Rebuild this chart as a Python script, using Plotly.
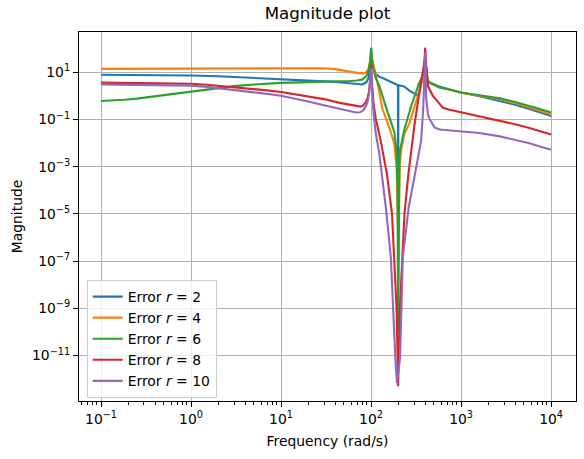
import plotly.graph_objects as go

# ---------------- data ----------------
labels = ["Error <i>r</i> = 2", "Error <i>r</i> = 4", "Error <i>r</i> = 6",
          "Error <i>r</i> = 8", "Error <i>r</i> = 10"]
colors = ["#1f77b4", "#ff7f0e", "#2ca02c", "#d62728", "#9467bd"]

# frequency (rad/s) and log10(magnitude) for each series
f_r2 = [0.1, 0.3, 1, 2, 3, 5, 7, 10, 15, 20, 30, 40, 50, 58, 65, 72, 80, 86, 90, 94, 97, 99, 100,
        104, 112, 123, 140, 165, 195, 199, 200, 201, 235, 267, 320, 340, 360,
        380, 400, 412, 424, 450, 575, 745, 1000, 1600, 2700, 4000, 5750, 7500, 10000]
m_r2 = [0.90, 0.89, 0.87, 0.84, 0.81, 0.77, 0.74, 0.71, 0.68, 0.66, 0.63, 0.60, 0.56, 0.54, 0.51, 0.49, 0.49,
        0.55, 0.62, 0.80, 1.15, 1.50, 2.05,
        1.30, 0.94, 0.82, 0.73, 0.59, 0.47, 0.46, -8.0, 0.46, 0.40, 0.23, 0.05, 0.10, 0.55,
        0.95, 1.60, 0.95, 0.66, 0.57, 0.40, 0.28, 0.15, -0.01, -0.20, -0.37, -0.55, -0.69, -0.85]

f_r4 = [0.1, 0.3, 1, 2, 5, 10, 20, 30, 40, 50, 58, 65, 75, 83, 88, 93, 97, 99, 100,
        104, 109, 120, 134, 158, 166, 181, 192, 200, 208, 216, 235, 267, 302, 330,
        360, 380, 400, 412, 424, 450, 575, 745, 1000, 1600, 2700, 4000, 5750, 7500, 10000]
m_r4 = [1.15, 1.16, 1.17, 1.18, 1.19, 1.20, 1.20, 1.18, 1.14, 1.08, 1.03, 0.99, 0.96, 0.96, 1.00, 1.12, 1.35,
        1.55, 1.75,
        1.40, 1.15, 0.40, -0.55, -1.30, -1.54, -2.00, -3.00, -6.00, -3.00, -2.30, -1.60, -1.16, -0.48, 0.00,
        0.45, 0.90, 1.60, 0.95, 0.66, 0.56, 0.36, 0.27, 0.14, 0.01, -0.14, -0.30, -0.47, -0.62, -0.78]

f_r6 = [0.1, 0.13, 0.18, 0.25, 0.316, 0.5, 0.7, 1, 1.5, 2, 3, 5, 7, 10, 20, 40, 58, 70, 80, 86, 90, 94, 97, 100,
        104, 112, 123, 153, 182, 192, 197, 200, 203, 207, 235, 281, 345, 376,
        400, 412, 424, 450, 575, 745, 1000, 1600, 2700, 4000, 5750, 7500, 10000]
m_r6 = [-0.21, -0.195, -0.16, -0.11, -0.06, 0.05, 0.13, 0.21, 0.29, 0.35, 0.42, 0.49, 0.53, 0.56, 0.59, 0.61,
        0.64, 0.66, 0.70, 0.80, 0.90, 1.10, 1.40, 2.00,
        1.30, 0.80, 0.45, -0.69, -1.54, -2.40, -4.00, -10.0, -4.00, -2.40, -1.40, -0.39, 0.59, 0.87,
        1.60, 0.95, 0.66, 0.57, 0.36, 0.28, 0.15, 0.03, -0.10, -0.25, -0.41, -0.55, -0.70]

f_r8 = [0.1, 0.3, 0.5, 1, 1.5, 2, 3, 5, 7, 10, 15, 20, 30, 45, 58, 68, 76, 82, 88, 92, 95, 98, 100,
        103, 107, 113, 128, 150, 171, 192, 200, 209, 235, 260, 288, 303, 340, 370,
        390, 400, 409, 430, 485, 575, 630, 745, 1000, 1600, 2700, 4000, 5750, 7500, 10000]
m_r8 = [0.57, 0.56, 0.55, 0.52, 0.48, 0.44, 0.38, 0.30, 0.24, 0.17, 0.07, -0.01, -0.13, -0.29, -0.38, -0.44,
        -0.45, -0.40, -0.25, -0.05, 0.20, 0.70, 1.30,
        0.40, -0.40, -0.97, -1.90, -3.30, -5.00, -9.00, -12.3, -9.00, -5.00, -3.30, -1.90, -1.25, 0.02, 0.80,
        1.40, 2.05, 1.30, 0.40, 0.02, -0.32, -0.50, -0.58, -0.69, -0.84, -1.03, -1.20, -1.36, -1.49, -1.63]

f_r10 = [0.1, 0.3, 0.5, 1, 1.5, 2, 3, 5, 7, 10, 15, 20, 30, 45, 58, 68, 76, 82, 88, 92, 95, 98, 100,
         103, 107, 113, 123, 146, 166, 186, 194, 210, 225, 262, 300, 330, 360, 380,
         390, 400, 410, 420, 430, 446, 507, 575, 745, 1000, 1600, 2700, 4000, 5750, 7500, 10000]
m_r10 = [0.49, 0.48, 0.47, 0.44, 0.39, 0.34, 0.26, 0.16, 0.09, 0.01, -0.12, -0.23, -0.39, -0.56, -0.66, -0.70,
         -0.69, -0.60, -0.42, -0.20, 0.10, 0.60, 1.20,
         0.20, -0.80, -1.60, -2.40, -4.72, -6.85, -11.1, -12.17, -11.1, -6.85, -4.72, -3.50, -2.70, -1.90, -0.50,
         1.00, 1.85, -0.12, -0.60, -0.80, -0.97, -1.33, -1.42, -1.46, -1.49, -1.57, -1.71, -1.85, -2.00, -2.14, -2.28]

freqs = [f_r2, f_r4, f_r6, f_r8, f_r10]
logmags = [m_r2, m_r4, m_r6, m_r8, m_r10]

x_tickvals = [0.1, 1, 10, 100, 1000, 10000]
x_ticktext = ["10<sup>\u22121</sup>", "10<sup>0</sup>", "10<sup>1</sup>",
              "10<sup>2</sup>", "10<sup>3</sup>", "10<sup>4</sup>"]
y_tickvals = [1e1, 1e-1, 1e-3, 1e-5, 1e-7, 1e-9, 1e-11]
y_ticktext = ["10<sup>1</sup>", "10<sup>\u22121</sup>", "10<sup>\u22123</sup>",
              "10<sup>\u22125</sup>", "10<sup>\u22127</sup>", "10<sup>\u22129</sup>",
              "10<sup>\u221211</sup>"]

# ---------------- figure ----------------
fig = go.Figure()
for f, lm, name, c in zip(freqs, logmags, labels, colors):
    fig.add_trace(go.Scatter(
        x=f, y=[10 ** v for v in lm], mode="lines", name=name,
        line=dict(color=c, width=2.1)))

minor_x = [k * 10 ** e for e in range(-2, 5) for k in range(2, 10)]

FONT = "DejaVu Sans"
axis_common = dict(
    type="log", showline=True, linecolor="black", linewidth=1.1, mirror=True,
    ticks="outside", ticklen=5, tickwidth=1.1, tickcolor="black",
    showgrid=True, gridcolor="#b0b0b0", gridwidth=1.1, zeroline=False,
    automargin=False,
    tickfont=dict(family=FONT, size=13.9, color="black"),
)

fig.update_layout(
    width=584, height=459,
    margin=dict(l=79, r=8, t=32, b=58),
    paper_bgcolor="white", plot_bgcolor="white",
    font=dict(family=FONT, size=13.9, color="black"),
    title=dict(text="Magnitude plot", x=0.5, xref="paper", xanchor="center",
               y=1 - 19 / 459, yref="container", yanchor="bottom",
               font=dict(family=FONT, size=16.7, color="black")),
    xaxis=dict(axis_common, range=[-1.245, 4.277],
               tickmode="array", tickvals=x_tickvals, ticktext=x_ticktext,
               minor=dict(tickmode="array", tickvals=minor_x, ticks="outside",
                          ticklen=2.8, tickwidth=0.8, tickcolor="black", showgrid=False),
               title=dict(text="Frequency (rad/s)", standoff=10,
                          font=dict(family=FONT, size=13.9, color="black"))),
    yaxis=dict(axis_common, range=[-12.93, 2.715],
               tickmode="array", tickvals=y_tickvals, ticktext=y_ticktext,
               title=dict(text="Magnitude", standoff=6,
                          font=dict(family=FONT, size=13.9, color="black"))),
    legend=dict(x=0.0155, y=0.008, xanchor="left", yanchor="bottom",
                bgcolor="rgba(255,255,255,0.8)", bordercolor="#cccccc", borderwidth=1,
                font=dict(family=FONT, size=13.9, color="black"),
                tracegroupgap=0, itemwidth=30),
    showlegend=True,
)

fig.write_html("out.html", config={"displayModeBar": False},
               post_script="document.body.style.margin='0';document.body.style.overflow='hidden';")
